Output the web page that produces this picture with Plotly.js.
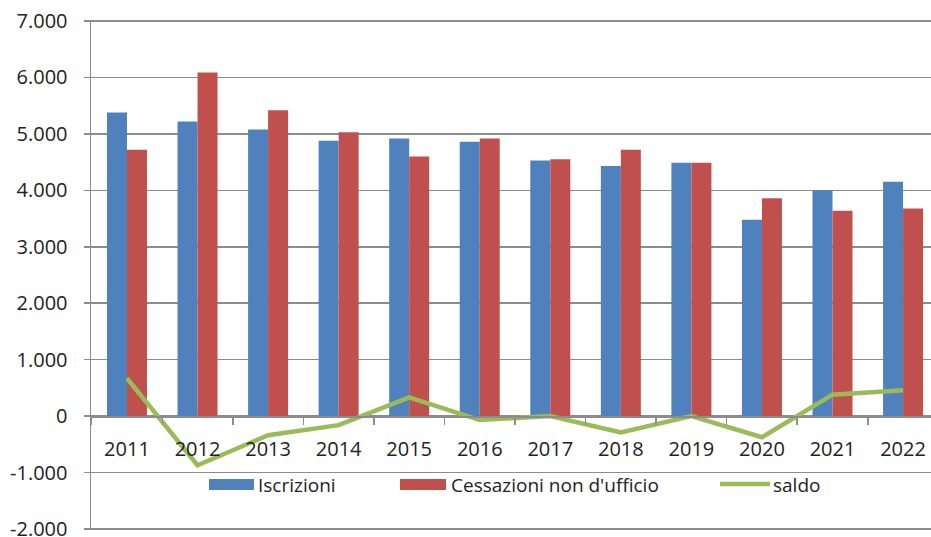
<!DOCTYPE html>
<html>
<head>
<meta charset="utf-8">
<script src="https://cdn.plot.ly/plotly-3.0.1.min.js"></script>
<style>html,body{margin:0;padding:0;background:#fff;}#chart{width:931px;height:537px;}</style>
</head>
<body>
<div id="chart"></div>
<script>
const years = ['2011','2012','2013','2014','2015','2016','2017','2018','2019','2020','2021','2022'];
const iscrizioni = [5380, 5220, 5080, 4880, 4920, 4860, 4530, 4430, 4490, 3480, 4000, 4150];
const cessazioni = [4720, 6090, 5420, 5030, 4600, 4920, 4550, 4720, 4490, 3860, 3640, 3680];
const saldo = [670, -870, -340, -160, 330, -70, 0, -290, 0, -375, 380, 460];
const yTickVals = [-2000, -1000, 0, 1000, 2000, 3000, 4000, 5000, 6000, 7000];
const yTickText = ['-2.000', '-1.000', '0', '1.000', '2.000', '3.000', '4.000', '5.000', '6.000', '7.000'];
const seriesNames = ['Iscrizioni', "Cessazioni non d'ufficio", 'saldo'];
const colors = ['#4F81BD', '#C0504D', '#9BBB59'];

const W = 931, H = 537, ML = 91, MR = 0, MT = 20, MB = 7;
const PW = W - ML - MR, PH = H - MT - MB;
const Y0 = -2018, Y1 = 7018;
const px = v => (v - ML) / PW;
const py = v => (H - MB - v) / PH;
const font = {family: '"Open Sans", "Noto Sans", sans-serif', size: 19, color: '#222222'};
const tickFont = {family: '"Open Sans", "Noto Sans", sans-serif', size: 20, color: '#222222'};
const gridColor = '#8c8c8c';

const traces = [
  {type: 'bar', x: years, y: iscrizioni, name: seriesNames[0], marker: {color: colors[0]}, showlegend: false},
  {type: 'bar', x: years, y: cessazioni, name: seriesNames[1], marker: {color: colors[1]}, showlegend: false},
  {type: 'scatter', mode: 'lines', x: years, y: saldo, name: seriesNames[2], line: {color: colors[2], width: 4.5}, showlegend: false}
];

// legend drawn as layout shapes + annotations
const legY = 485;
const shapes = [
  {type: 'rect', xref: 'paper', yref: 'paper', x0: px(209), x1: px(254), y0: py(490), y1: py(479), fillcolor: colors[0], line: {width: 0}},
  {type: 'rect', xref: 'paper', yref: 'paper', x0: px(400), x1: px(446), y0: py(490), y1: py(479), fillcolor: colors[1], line: {width: 0}},
  {type: 'line', xref: 'paper', yref: 'paper', x0: px(720), x1: px(770), y0: py(484), y1: py(484), line: {color: colors[2], width: 4.5}}
];
const annotations = [
  {xref: 'paper', yref: 'paper', x: px(256), y: py(legY), text: seriesNames[0], showarrow: false, xanchor: 'left', yanchor: 'middle', font: font},
  {xref: 'paper', yref: 'paper', x: px(449), y: py(legY), text: seriesNames[1], showarrow: false, xanchor: 'left', yanchor: 'middle', font: font},
  {xref: 'paper', yref: 'paper', x: px(771), y: py(legY), text: seriesNames[2], showarrow: false, xanchor: 'left', yanchor: 'middle', font: font}
];

const layout = {
  width: W, height: H,
  margin: {l: ML, r: MR, t: MT, b: MB, pad: 0},
  paper_bgcolor: '#fff', plot_bgcolor: '#fff',
  font: font,
  barmode: 'group', bargap: 0.433, bargroupgap: 0,
  showlegend: false,
  xaxis: {
    type: 'category', range: [-0.51, 11.396],
    anchor: 'free', position: (0 - Y0) / (Y1 - Y0),
    showline: true, linecolor: gridColor, linewidth: 1.5,
    ticks: 'outside', tickson: 'boundaries', ticklen: 7, tickcolor: gridColor, tickwidth: 1.5,
    showgrid: false, zeroline: false,
    tickfont: tickFont, ticklabelstandoff: 14
  },
  yaxis: {
    range: [Y0, Y1],
    tickmode: 'array', tickvals: yTickVals, ticktext: yTickText,
    showline: true, linecolor: gridColor, linewidth: 1.5,
    ticks: 'outside', ticklen: 6, tickcolor: gridColor, tickwidth: 1.5,
    showgrid: true, gridcolor: gridColor, gridwidth: 1.5,
    zeroline: true, zerolinecolor: gridColor, zerolinewidth: 1.5,
    tickfont: tickFont, ticklabelstandoff: 12, ticklabeloverflow: 'allow'
  },
  shapes: shapes,
  annotations: annotations
};

Plotly.newPlot('chart', traces, layout, {displayModeBar: false, staticPlot: true});
</script>
</body>
</html>
